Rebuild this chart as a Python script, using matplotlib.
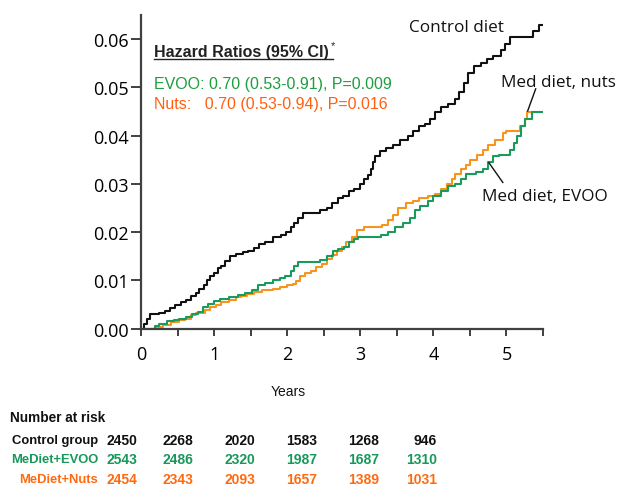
import matplotlib
matplotlib.use("Agg")
import matplotlib.pyplot as plt
from matplotlib.ticker import MultipleLocator

# ---------------- data ----------------
control_t = [0.00, 0.04, 0.08, 0.12, 0.25, 0.33, 0.40, 0.47, 0.55, 0.62, 0.68, 0.75, 0.80, 0.86,
             0.90, 0.95, 1.00, 1.05, 1.10, 1.15, 1.22, 1.30, 1.40, 1.47, 1.55, 1.62, 1.70, 1.80,
             1.92, 1.98, 2.05, 2.10, 2.15, 2.22, 2.45, 2.55, 2.62, 2.70, 2.77, 2.85, 2.92, 3.00,
             3.05, 3.10, 3.15, 3.18, 3.20, 3.27, 3.35, 3.45, 3.55, 3.65, 3.72, 3.80, 3.88, 3.95,
             4.02, 4.10, 4.20, 4.30, 4.35, 4.42, 4.48, 4.55, 4.65, 4.74, 4.82, 4.92, 4.98, 5.05,
             5.36, 5.45, 5.50]
control_v = [0.000, 0.001, 0.002, 0.003, 0.0033, 0.0037, 0.0043, 0.005, 0.0055, 0.006, 0.0068,
             0.0075, 0.0082, 0.009, 0.010, 0.011, 0.0115, 0.0125, 0.013, 0.014, 0.015, 0.0155,
             0.0158, 0.0162, 0.0168, 0.0175, 0.018, 0.019, 0.0195, 0.020, 0.021, 0.022, 0.023,
             0.024, 0.0245, 0.025, 0.026, 0.027, 0.0275, 0.0285, 0.029, 0.030, 0.031, 0.0318,
             0.033, 0.0345, 0.0358, 0.0368, 0.0375, 0.038, 0.039, 0.040, 0.041, 0.042, 0.0425,
             0.0435, 0.045, 0.046, 0.0465, 0.0475, 0.049, 0.051, 0.053, 0.0545, 0.055, 0.0558,
             0.0565, 0.0578, 0.059, 0.0604, 0.0617, 0.063, 0.063]

evoo_t = [0.00, 0.19, 0.25, 0.35, 0.45, 0.52, 0.62, 0.70, 0.78, 0.85, 0.92, 1.00, 1.08, 1.20,
          1.33, 1.42, 1.52, 1.60, 1.70, 1.80, 1.90, 1.97, 2.05, 2.10, 2.15, 2.45, 2.55, 2.63,
          2.70, 2.78, 2.85, 2.92, 2.97, 3.28, 3.38, 3.48, 3.58, 3.68, 3.75, 3.82, 3.92, 4.00,
          4.10, 4.20, 4.30, 4.38, 4.45, 4.58, 4.68, 4.75, 4.82, 4.90, 5.05, 5.10, 5.15, 5.20,
          5.25, 5.35, 5.50]
evoo_v = [0.000, 0.0005, 0.001, 0.0015, 0.0018, 0.002, 0.0025, 0.003, 0.0035, 0.0045, 0.0052,
          0.0058, 0.0062, 0.0065, 0.0070, 0.0075, 0.008, 0.009, 0.0095, 0.010, 0.0105, 0.011,
          0.012, 0.013, 0.0138, 0.0142, 0.015, 0.016, 0.0165, 0.017, 0.018, 0.0185, 0.019,
          0.0195, 0.020, 0.021, 0.022, 0.023, 0.0245, 0.0255, 0.0265, 0.0275, 0.0285, 0.0295,
          0.030, 0.031, 0.032, 0.0325, 0.033, 0.0345, 0.0357, 0.036, 0.037, 0.0385, 0.040,
          0.042, 0.0435, 0.0448, 0.0448]

nuts_t = [0.00, 0.19, 0.30, 0.41, 0.52, 0.60, 0.68, 0.75, 0.88, 0.95, 1.02, 1.10, 1.20, 1.30,
          1.37, 1.45, 1.55, 1.65, 1.80, 1.90, 2.00, 2.08, 2.12, 2.18, 2.25, 2.32, 2.40, 2.47,
          2.55, 2.62, 2.68, 2.75, 2.80, 2.88, 2.95, 3.05, 3.30, 3.38, 3.45, 3.52, 3.62, 3.72,
          3.80, 3.92, 4.02, 4.10, 4.18, 4.25, 4.30, 4.38, 4.45, 4.50, 4.60, 4.68, 4.75, 4.85,
          4.95, 5.00, 5.18, 5.25, 5.28, 5.50]
nuts_v = [0.000, 0.0003, 0.0008, 0.0014, 0.0018, 0.002, 0.0028, 0.0033, 0.0038, 0.0045, 0.005,
          0.0055, 0.006, 0.0065, 0.0068, 0.0072, 0.0076, 0.008, 0.0083, 0.0086, 0.009, 0.0092,
          0.0098, 0.011, 0.0115, 0.012, 0.0128, 0.0135, 0.0145, 0.0152, 0.016, 0.017, 0.018,
          0.019, 0.0205, 0.021, 0.0215, 0.0225, 0.0235, 0.025, 0.026, 0.0265, 0.027, 0.0275,
          0.028, 0.029, 0.030, 0.031, 0.032, 0.033, 0.034, 0.035, 0.036, 0.037, 0.038, 0.039,
          0.0405, 0.041, 0.042, 0.0435, 0.045, 0.045]

y_ticks = [0.00, 0.01, 0.02, 0.03, 0.04, 0.05, 0.06]
y_ticklabels = ["0.00", "0.01", "0.02", "0.03", "0.04", "0.05", "0.06"]
x_ticks = [0, 1, 2, 3, 4, 5]

risk_groups = ["Control group", "MeDiet+EVOO", "MeDiet+Nuts"]
risk_control = ["2450", "2268", "2020", "1583", "1268", "946"]
risk_evoo = ["2543", "2486", "2320", "1987", "1687", "1310"]
risk_nuts = ["2454", "2343", "2093", "1657", "1389", "1031"]

# ---------------- styling ----------------
BLACK = "#111111"
GREEN_LINE = "#1a9a5c"
ORANGE_LINE = "#f7941d"
GREEN_TXT = "#1e9e3e"
ORANGE_TXT = "#ff6010"
GREEN_TAB = "#17985a"
ORANGE_TAB = "#ff6a10"
AXCOL = "#404040"

W, H = 619, 489
fig = plt.figure(figsize=(W / 100, H / 100), dpi=100)
ax = fig.add_axes([141 / W, 1 - 329.7 / H, (543 - 141) / W, (329.7 - 16) / H])

ax.step(control_t, control_v, where="post", color=BLACK, lw=1.5)
ax.step(nuts_t, nuts_v, where="post", color=ORANGE_LINE, lw=1.5)
ax.step(evoo_t, evoo_v, where="post", color=GREEN_LINE, lw=1.5)

ax.set_xlim(0, 5.5)
ax.set_ylim(0, 0.065)
for s in ["top", "right"]:
    ax.spines[s].set_visible(False)
for s in ["left", "bottom"]:
    ax.spines[s].set_linewidth(1.6)
    ax.spines[s].set_color(AXCOL)

tickfont = "Open Sans"
ax.set_yticks(y_ticks)
ax.set_yticklabels(y_ticklabels, fontsize=13, family=tickfont)
ax.set_xticks(x_ticks)
ax.set_xticklabels([str(x) for x in x_ticks], fontsize=13, family=tickfont)
ax.xaxis.set_minor_locator(MultipleLocator(0.5))
ax.tick_params(axis="y", length=7, width=1.4, color=AXCOL, pad=2)
ax.tick_params(axis="x", which="major", length=5, width=1.4, color=AXCOL, pad=7)
ax.tick_params(axis="x", which="minor", length=5, width=1.4, color=AXCOL)
ax.set_xlim(0, 5.5)

# curve labels
lab_fs = 12.3
ax.text(3.66, 0.0625, "Control diet", fontsize=lab_fs, family=tickfont, color=BLACK,
        ha="left", va="center")
ax.text(4.93, 0.0512, "Med diet, nuts", fontsize=lab_fs, family=tickfont, color=BLACK,
        ha="left", va="center")
ax.plot([5.40, 5.29], [0.0497, 0.0451], color=BLACK, lw=1.0)
ax.text(4.67, 0.0275, "Med diet, EVOO", fontsize=lab_fs, family=tickfont, color=BLACK,
        ha="left", va="center")
ax.plot([4.95, 4.76], [0.0303, 0.0344], color=BLACK, lw=1.0)

# hazard ratio box text
af = "Liberation Sans"
fig.text(154 / W, 1 - 52 / H, "Hazard Ratios (95% CI)", fontsize=11.5, family=af,
         fontweight="bold", color="#222222", ha="left", va="center")
fig.text(331 / W, 1 - 46 / H, "*", fontsize=8, family=af, color="#222222",
         ha="left", va="center")
fig.add_artist(plt.Line2D([154 / W, 333 / W], [1 - 59.5 / H, 1 - 59.5 / H],
                          color="#222222", lw=1.0))
fig.text(154 / W, 1 - 84 / H, "EVOO: 0.70 (0.53-0.91), P=0.009", fontsize=11.5,
         family=af, color=GREEN_TXT, ha="left", va="center")
fig.text(154 / W, 1 - 105 / H, "Nuts:   0.70 (0.53-0.94), P=0.016", fontsize=11.5,
         family=af, color=ORANGE_TXT, ha="left", va="center")

# x label
fig.text(288 / W, 1 - 392 / H, "Years", fontsize=10, family=af, color=BLACK,
         ha="center", va="center")

# number at risk table
fig.text(10 / W, 1 - 418 / H, "Number at risk", fontsize=9.8, family=af, fontweight="bold",
         color=BLACK, ha="left", va="center")
row_y = [441, 460, 480]
row_col = [BLACK, GREEN_TAB, ORANGE_TAB]
row_vals = [risk_control, risk_evoo, risk_nuts]
col_right = [137, 193, 255, 317, 379, 437]
for name, yy, cc, vals in zip(risk_groups, row_y, row_col, row_vals):
    fig.text(98 / W, 1 - yy / H, name, fontsize=9.4, family=af, fontweight="bold",
             color=cc, ha="right", va="center")
    for xr, v in zip(col_right, vals):
        fig.text(xr / W, 1 - yy / H, v, fontsize=10, family=af, fontweight="bold",
                 color=cc, ha="right", va="center")

fig.savefig("out.png", dpi=100)
